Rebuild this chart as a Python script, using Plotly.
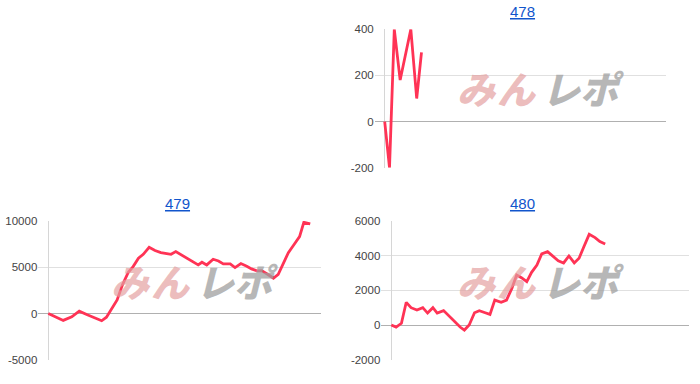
import plotly.graph_objects as go

# ---- data ----
titles = ["478", "479", "480"]

x478 = [0, 0.9, 1.8, 2.9, 4.9, 6.0, 6.9]
y478 = [0, -200, 400, 180, 400, 100, 300]

x479 = [0.0, 2.8, 4.4, 5.8, 7.3, 8.8, 10.0, 10.9, 11.9, 12.9, 13.9, 15.0, 15.9, 16.9,
        17.8, 18.9, 20.0, 21.1, 22.2, 23.0, 23.9, 25.0, 26.1, 27.2, 28.1, 28.8, 29.7,
        30.9, 31.9, 32.8, 34.1, 35.0, 36.1, 37.2, 38.1, 39.1, 40.0, 41.1, 42.2, 43.1,
        44.1, 45.0, 46.1, 47.1, 47.9, 49.1]
y479 = [0, -750, -360, 250, -140, -500, -790, -400, 580, 1470, 3090, 4460, 5070, 5970,
        6400, 7160, 6800, 6580, 6470, 6400, 6690, 6330, 5970, 5610, 5250, 5540, 5250,
        5860, 5680, 5360, 5360, 4960, 5400, 5110, 4820, 4600, 4640, 4240, 3810, 4240,
        5430, 6580, 7480, 8310, 9860, 9680]

x480 = [0, 0.9, 1.9, 2.8, 3.7, 4.8, 5.9, 6.8, 7.8, 8.6, 9.8, 10.9, 11.9, 12.9, 13.7,
        14.6, 15.6, 16.5, 17.6, 18.5, 19.4, 20.6, 21.6, 22.6, 23.5, 24.4, 25.4, 26.3,
        27.3, 28.2, 29.3, 30.4, 31.3, 32.3, 33.3, 34.3, 35.2, 36.1, 37.1, 38.2, 39.1, 40.1]
y480 = [0, -120, 100, 1310, 1000, 865, 1000, 690, 1000, 690, 830, 480, 150, -115, -290,
        0, 710, 830, 710, 615, 1440, 1310, 1440, 2115, 2880, 2730, 2500, 3040, 3460,
        4100, 4230, 3940, 3710, 3580, 3980, 3580, 3850, 4520, 5230, 5040, 4810, 4670]

yticks478 = [-200, 0, 200, 400]
yticks479 = [-5000, 0, 5000, 10000]
yticks480 = [-2000, 0, 2000, 4000, 6000]
ylabels478 = ["-200", "0", "200", "400"]
ylabels479 = ["-5000", "0", "5000", "10000"]
ylabels480 = ["-2000", "0", "2000", "4000", "6000"]

W, H = 700, 384
LINE = "#ff3355"

def px_x(a, b):
    return [a / W, b / W]

def px_y(top, bottom):
    return [1 - bottom / H, 1 - top / H]

fig = go.Figure()
fig.add_trace(go.Scatter(x=x478, y=y478, mode="lines", line=dict(color=LINE, width=2.8),
                         xaxis="x", yaxis="y", showlegend=False))
fig.add_trace(go.Scatter(x=x479, y=y479, mode="lines", line=dict(color=LINE, width=2.8),
                         xaxis="x2", yaxis="y2", showlegend=False))
fig.add_trace(go.Scatter(x=x480, y=y480, mode="lines", line=dict(color=LINE, width=2.8),
                         xaxis="x3", yaxis="y3", showlegend=False))

def xax(domain, rng, anchor):
    return dict(domain=domain, range=rng, anchor=anchor, showgrid=False,
                showticklabels=False, zeroline=True, zerolinecolor="#d6d6d6",
                zerolinewidth=1, showline=False, ticks="", fixedrange=True,
                automargin=False)

def yax(domain, rng, tickvals, ticktext, anchor):
    return dict(domain=domain, range=rng, anchor=anchor, tickvals=tickvals,
                ticktext=ticktext,
                showgrid=True, gridcolor="#e0e0e0", gridwidth=1,
                zeroline=True, zerolinecolor="#b0b0b0", zerolinewidth=1,
                showline=False, ticks="", automargin=False,
                tickfont=dict(family="Arial, Liberation Sans", size=11.5, color="#444444"),
                fixedrange=True)

layout = dict(
    width=W, height=H, autosize=False,
    margin=dict(l=0, r=0, t=0, b=0, pad=0),
    paper_bgcolor="white", plot_bgcolor="white",
    xaxis=xax(px_x(374.7, 666), [-1.875, 52.75], "y"),
    yaxis=yax(px_y(29.3, 167.7), [-200, 400], yticks478, ylabels478, "x"),
    xaxis2=xax(px_x(38.3, 320.7), [-1.875, 51.06], "y2"),
    yaxis2=yax(px_y(221, 359.7), [-5000, 10000], yticks479, ylabels479, "x2"),
    xaxis3=xax(px_x(381.3, 689), [-1.875, 55.81], "y3"),
    yaxis3=yax(px_y(221, 359.7), [-2000, 6000], yticks480, ylabels480, "x3"),
)
fig.update_layout(**layout)

annotations = []
# titles
for t, cx, cy in [(titles[0], 522.8, 11.5), (titles[1], 177.3, 203.3), (titles[2], 522.8, 203.3)]:
    annotations.append(dict(text="<u>" + t + "</u>", x=cx / W, y=1 - cy / H, xref="paper",
                            yref="paper", showarrow=False, xanchor="center", yanchor="middle",
                            font=dict(family="Arial, Liberation Sans", size=15, color="#1155cc")))

# watermark "みんレポ"
wm_chars = ["み", "ん", "レ", "ポ"]
wm_colors = ["rgba(228,160,160,0.7)", "rgba(228,160,160,0.7)",
             "rgba(160,160,160,0.75)", "rgba(160,160,160,0.75)"]
wm_offsets = [-63, -23, 22, 63]
for cx, cy in [(539.5, 88), (193.5, 280), (539.5, 280)]:
    for ch, col, off in zip(wm_chars, wm_colors, wm_offsets):
        annotations.append(dict(text=ch, x=(cx + off) / W, y=1 - cy / H, xref="paper",
                                yref="paper", showarrow=False, xanchor="center",
                                yanchor="middle",
                                font=dict(family="Noto Sans CJK JP", size=38, color=col,
                                          weight=900, style="italic")))
fig.update_layout(annotations=annotations)

fig.write_html("out.html")
